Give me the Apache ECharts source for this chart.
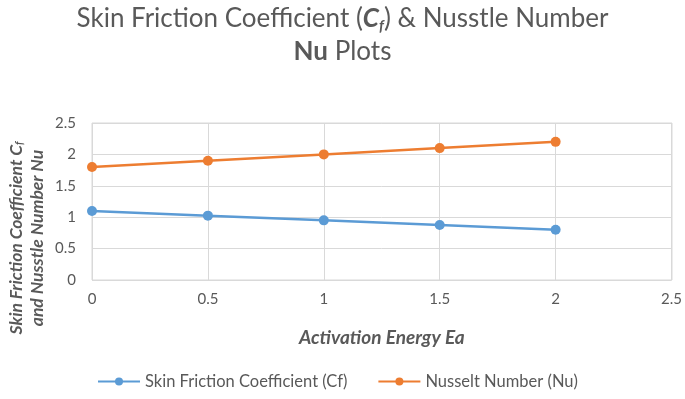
<!DOCTYPE html>
<html>
<head>
<meta charset="utf-8">
<script src="https://cdn.jsdelivr.net/npm/echarts@6/dist/echarts.min.js"></script>
<style>
html,body{margin:0;padding:0;background:#fff;}
#main{width:685px;height:399px;}
</style>
</head>
<body>
<div id="main"></div>
<script>
// 数据
var xValues = [0, 0.5, 1, 1.5, 2];
var cfValues = [1.1, 1.025, 0.95, 0.875, 0.8];
var nuValues = [1.8, 1.9, 2.0, 2.1, 2.2];
var seriesNames = ['Skin Friction Coefficient (Cf)', 'Nusselt Number (Nu)'];

function pairs(xs, ys){
	var out = [];
	for (var i = 0; i < xs.length; i++) out.push([xs[i], ys[i]]);
	return out;
}

function drawChart(){
	var chart = echarts.init(document.querySelector('#main'))
	var font = 'Lato, "Open Sans", sans-serif';
	var grey = '#595959';
	var option = {
    color: ['#5B9BD5', '#ED7D31'],
    title: {
        left: 'center',
        top: -3,
        text: '{n|Skin Friction Coefficient (}{c|C}{s|f}{n|) & Nusstle Number}\n{b|Nu}{n| Plots}',
        textStyle: {
            fontWeight: 'normal',
            rich: {
                n: {fontFamily: font, fontSize: 26, color: grey, fontWeight: 'normal', lineHeight: 33},
                b: {fontFamily: font, fontSize: 26, color: grey, fontWeight: 'bold', lineHeight: 33},
                c: {fontFamily: font, fontSize: 26, color: grey, fontWeight: 'bold', fontStyle: 'italic', lineHeight: 33},
                s: {fontFamily: font, fontSize: 15, color: grey, fontWeight: 'bold', fontStyle: 'italic', lineHeight: 33, padding: [16, 0, 0, 0]}
            }
        }
    },
    grid: {
        left: 92,
        right: 13,
        top: 123,
        bottom: 119
    },
    legend: {
        bottom: 4,
        left: 92,
        itemGap: 30,
        itemWidth: 42,
        itemHeight: 10,
        textStyle: {fontFamily: font, fontSize: 16.5, color: grey},
        data: seriesNames
    },
    xAxis: {
        type: 'value',
        min: 0,
        max: 2.5,
        interval: 0.5,
        name: 'Activation Energy Ea',
        nameLocation: 'middle',
        nameGap: 48,
        nameTextStyle: {fontFamily: font, fontSize: 19, fontWeight: 'bold', fontStyle: 'italic', color: grey},
        axisLine: {show: false},
        axisTick: {show: false},
        axisLabel: {fontFamily: font, fontSize: 15, color: grey, margin: 12},
        splitLine: {lineStyle: {color: '#d9d9d9'}}
    },
    yAxis: {
        type: 'value',
        min: 0,
        max: 2.5,
        interval: 0.5,
        axisLine: {show: false},
        axisTick: {show: false},
        axisLabel: {fontFamily: font, fontSize: 15, color: grey, margin: 16},
        splitLine: {lineStyle: {color: '#d9d9d9'}}
    },
    graphic: [
        {
            type: 'rect',
            shape: {x: 92, y: 123, width: 580, height: 157},
            style: {fill: 'none', stroke: '#d9d9d9', lineWidth: 1},
            silent: true
        },
        {
            type: 'text',
            x: 27,
            y: 238,
            rotation: Math.PI / 2,
            style: {
                text: '{t|Skin Friction Coefficient C}{s|f}\n{t|and Nusstle Number Nu}',
                align: 'center',
                verticalAlign: 'middle',
                rich: {
                    t: {fontFamily: font, fontSize: 17.5, fontWeight: 'bold', fontStyle: 'italic', fill: grey, lineHeight: 21},
                    s: {fontFamily: font, fontSize: 10.5, fontWeight: 'bold', fontStyle: 'italic', fill: grey, lineHeight: 21, padding: [7, 0, 0, 0]}
                }
            }
        }
    ],
    series: [
        {
            name: seriesNames[0],
            type: 'line',
            symbol: 'circle',
            symbolSize: 10,
            lineStyle: {width: 2.5},
            data: pairs(xValues, cfValues)
        },
        {
            name: seriesNames[1],
            type: 'line',
            symbol: 'circle',
            symbolSize: 10,
            lineStyle: {width: 2.5},
            data: pairs(xValues, nuValues)
        }
    ]
};

	chart.setOption(option)
}

drawChart()
</script>
</body>
</html>
